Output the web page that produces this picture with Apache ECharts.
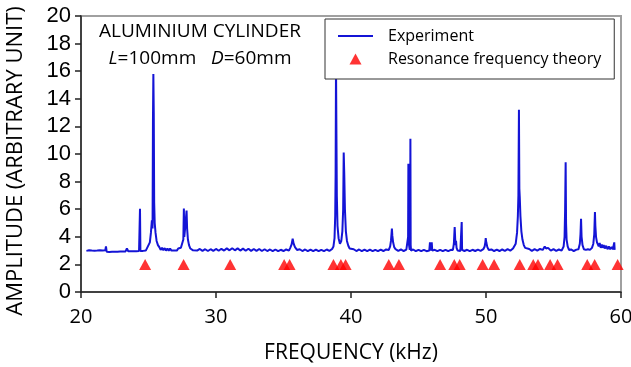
<!DOCTYPE html>
<html>
<head>
<meta charset="utf-8">
<script src="https://cdn.jsdelivr.net/npm/echarts@6/dist/echarts.min.js"></script>
<style>
html,body{margin:0;padding:0;background:#fff;}
#chart{width:631px;height:367px;}
</style>
</head>
<body>
<div id="chart"></div>
<script>
// ---- data ----
var xTicks = [20, 30, 40, 50, 60];
var yTicks = [0, 2, 4, 6, 8, 10, 12, 14, 16, 18, 20];

// Experiment spectrum: [frequency kHz, amplitude]
var experiment = [
[20.4,2.98],[20.5,2.9],[20.6,3.02],[20.7,2.88],[20.8,3.0],[20.9,2.87],[21.0,2.99],[21.1,2.88],[21.2,3.0],[21.3,2.9],
[21.4,3.02],[21.5,2.89],[21.6,3.01],[21.7,2.9],[21.8,3.03],[21.85,3.3],[21.9,2.92],[22.0,3.02],[22.1,2.9],[22.2,3.04],
[22.3,2.91],[22.4,3.03],[22.5,2.92],[22.6,3.05],[22.7,2.92],[22.8,3.04],[22.9,2.93],[23.0,3.05],[23.1,2.93],[23.2,3.06],
[23.3,2.94],[23.4,3.15],[23.5,2.95],[23.6,3.07],[23.7,2.95],[23.8,3.08],[23.9,2.96],[24.0,3.1],[24.1,2.96],[24.2,3.08],
[24.3,2.97],[24.37,6.04],[24.4,2.98],[24.5,3.1],[24.6,2.98],[24.7,3.12],[24.8,3.0],[24.9,3.2],[25.0,3.1],[25.1,3.6],
[25.18,4.3],[25.25,5.2],[25.3,4.6],[25.33,12.4],[25.36,15.8],[25.39,13.0],[25.42,6.5],[25.46,5.0],[25.52,4.3],[25.6,3.7],
[25.7,3.4],[25.8,3.25],[25.9,3.05],[26.0,3.2],[26.1,3.02],[26.2,3.18],[26.3,3.0],[26.4,3.15],[26.5,3.0],[26.6,3.15],
[26.7,3.0],[26.8,3.14],[26.9,3.0],[27.0,3.14],[27.1,3.0],[27.2,3.15],[27.3,3.02],[27.4,3.2],[27.5,3.3],[27.58,3.8],
[27.62,6.05],[27.65,4.0],[27.7,4.5],[27.76,5.2],[27.82,5.9],[27.86,4.6],[27.92,3.8],[28.0,3.4],[28.1,3.15],[28.2,3.25],
[28.3,3.02],[28.4,3.15],[28.6,3.0],[28.8,3.12],[29.0,2.98],[29.2,3.1],[29.4,2.97],[29.6,3.1],[29.8,2.98],[30.0,3.12],
[30.2,2.99],[30.4,3.13],[30.6,3.0],[30.8,3.16],[31.0,3.02],[31.2,3.17],[31.4,3.02],[31.6,3.16],[31.8,3.0],[32.0,3.14],
[32.2,2.99],[32.4,3.13],[32.6,2.98],[32.8,3.12],[33.0,2.98],[33.2,3.12],[33.4,2.97],[33.6,3.1],[33.8,2.97],[34.0,3.08],
[34.2,2.96],[34.4,3.08],[34.6,2.96],[34.8,3.06],[35.0,2.97],[35.2,3.08],[35.4,3.0],[35.5,3.2],[35.6,3.45],[35.68,3.87],
[35.75,3.5],[35.85,3.25],[36.0,3.05],[36.2,3.1],[36.4,2.97],[36.6,3.08],[36.8,2.96],[37.0,3.07],[37.2,2.96],[37.4,3.07],
[37.6,2.96],[37.8,3.06],[38.0,2.96],[38.2,3.08],[38.4,2.98],[38.6,3.12],[38.7,3.3],[38.78,3.9],[38.83,5.5],[38.86,8.5],
[38.89,16.5],[38.92,11.5],[38.95,7.0],[39.0,4.8],[39.08,3.9],[39.18,3.5],[39.28,3.7],[39.36,4.4],[39.42,6.0],[39.46,10.1],
[39.5,8.6],[39.55,6.0],[39.62,4.4],[39.7,3.7],[39.8,3.35],[39.9,3.15],[40.0,3.05],[40.2,3.1],[40.4,2.97],[40.6,3.08],
[40.8,2.96],[41.0,3.07],[41.2,2.96],[41.4,3.07],[41.6,2.96],[41.8,3.06],[42.0,2.96],[42.2,3.07],[42.4,2.97],[42.6,3.08],
[42.8,3.05],[42.9,3.3],[42.96,3.7],[43.0,4.2],[43.03,4.6],[43.06,4.1],[43.12,3.6],[43.2,3.25],[43.3,3.1],[43.5,2.98],
[43.7,3.08],[43.9,2.97],[44.1,3.07],[44.2,3.0],[44.23,4.0],[44.25,9.3],[44.27,5.8],[44.3,3.4],[44.35,3.05],[44.38,3.5],
[44.4,11.1],[44.42,3.4],[44.45,3.0],[44.6,3.08],[44.8,2.96],[45.0,3.06],[45.2,2.96],[45.4,3.06],[45.6,2.96],[45.8,3.0],
[45.85,3.6],[45.9,3.0],[45.98,3.6],[46.02,3.0],[46.2,3.06],[46.4,2.96],[46.6,3.06],[46.8,2.96],[47.0,3.06],[47.2,2.96],
[47.4,3.06],[47.55,3.05],[47.62,3.5],[47.68,4.7],[47.72,3.8],[47.76,3.4],[47.78,3.7],[47.82,3.2],[47.9,3.0],[48.0,3.06],
[48.1,2.97],[48.17,3.1],[48.2,5.07],[48.23,3.05],[48.4,2.97],[48.6,3.06],[48.8,2.96],[49.0,3.06],[49.2,2.97],[49.4,3.07],
[49.6,2.98],[49.8,3.1],[49.9,3.3],[49.95,3.6],[49.98,3.9],[50.02,3.6],[50.1,3.25],[50.2,3.05],[50.4,3.08],[50.6,2.97],
[50.8,3.07],[51.0,2.97],[51.2,3.08],[51.4,2.98],[51.6,3.1],[51.8,3.0],[52.0,3.15],[52.1,3.2],[52.2,3.5],[52.3,4.3],
[52.36,5.5],[52.4,7.0],[52.44,13.2],[52.47,7.5],[52.5,6.9],[52.55,5.5],[52.62,4.4],[52.7,3.8],[52.8,3.4],[52.9,3.2],
[53.0,3.08],[53.2,3.12],[53.4,2.98],[53.6,3.1],[53.8,3.0],[54.0,3.12],[54.2,3.05],[54.35,3.3],[54.45,3.15],[54.6,3.2],
[54.8,3.0],[55.0,3.1],[55.2,2.98],[55.4,3.08],[55.6,3.0],[55.75,3.3],[55.82,4.0],[55.86,5.9],[55.9,9.4],[55.93,5.0],
[55.97,3.8],[56.05,3.3],[56.15,3.05],[56.3,3.08],[56.5,2.97],[56.7,3.07],[56.85,3.1],[56.95,3.5],[57.0,4.2],[57.04,5.3],
[57.08,4.0],[57.15,3.4],[57.25,3.1],[57.4,3.05],[57.55,3.1],[57.7,3.05],[57.85,3.2],[57.95,3.5],[58.02,4.2],[58.07,5.8],
[58.1,4.8],[58.15,4.0],[58.22,3.6],[58.3,3.5],[58.35,3.3],[58.42,3.55],[58.5,3.2],[58.58,3.45],[58.65,3.2],[58.72,3.4],
[58.8,3.15],[58.9,3.35],[59.0,3.1],[59.1,3.3],[59.2,3.1],[59.3,3.25],[59.4,3.1],[59.45,3.2],[59.5,3.6],[59.53,3.05]
];

// Resonance frequency theory (kHz), drawn at amplitude level 2
var theoryFreq = [24.75, 27.6, 31.05, 35.05, 35.45, 38.7, 39.25, 39.6, 42.8, 43.55, 46.6, 47.65, 48.05,
                  49.75, 50.6, 52.5, 53.5, 53.85, 54.75, 55.3, 57.5, 58.05, 59.75];
var theoryLevel = [2, 2, 2, 2, 2, 2, 2, 2, 2, 2, 2, 2, 2, 2, 2, 2, 2, 2, 2, 2, 2, 2, 2];

var titleLine1 = 'ALUMINIUM CYLINDER';
var xName = 'FREQUENCY (kHz)';
var yName = 'AMPLITUDE (ARBITRARY UNIT)';

// ---- chart ----
var chart = echarts.init(document.getElementById('chart'), null, {renderer: 'canvas'});
var theoryData = theoryFreq.map(function (f, i) { return [f, theoryLevel[i]]; });

// legend icons (box 35x16 kept by degenerate corner points)
var lineIcon = 'path://M0,0L0,0M35,16L35,16M0,7L35,7L35,9L0,9Z';
var triIcon = 'path://M0,0L0,0M35,16L35,16M11.5,13.5L17.5,2.5L23.5,13.5Z';

chart.setOption({
  animation: false,
  backgroundColor: '#ffffff',
  grid: {
    left: 81, right: 10, top: 16, bottom: 75,
    containLabel: false, outerBoundsMode: 'none',
    show: true, borderColor: '#a0a0a0', borderWidth: 2, backgroundColor: 'transparent'
  },
  graphic: [
    {type: 'text', x: 200, y: 32, z: 10,
     style: {text: titleLine1, align: 'center', verticalAlign: 'middle',
             font: "19px 'Open Sans', sans-serif", fill: '#000'}},
    {type: 'text', x: 200, y: 59, z: 10,
     style: {text: '{i|L}{n|=100mm   }{i|D}{n|=60mm}', align: 'center', verticalAlign: 'middle',
             rich: {
               n: {fontSize: 19, fontFamily: 'Open Sans', fill: '#000', color: '#000'},
               i: {fontSize: 19, fontFamily: 'Open Sans', fontStyle: 'italic', fill: '#000', color: '#000'}
             }}}
  ],
  legend: {
    left: 325, top: 19, orient: 'vertical',
    backgroundColor: '#ffffff', borderColor: '#333333', borderWidth: 1, borderRadius: 0,
    padding: [9, 13, 12, 13],
    itemWidth: 35, itemHeight: 16, itemGap: 7,
    textStyle: {fontSize: 16, fontFamily: 'Open Sans', color: '#000', padding: [0, 0, 0, 10]},
    data: [
      {name: 'Experiment', icon: lineIcon, itemStyle: {color: '#1414d6'}},
      {name: 'Resonance frequency theory', icon: triIcon, itemStyle: {color: '#ff0000'}}
    ],
    z: 10
  },
  xAxis: {
    type: 'value', min: xTicks[0], max: xTicks[xTicks.length - 1], interval: 10,
    name: xName, nameLocation: 'middle', nameGap: 51,
    nameTextStyle: {fontSize: 21, fontFamily: 'Open Sans', color: '#000'},
    axisLine: {show: true, onZero: false, lineStyle: {color: '#222', width: 1.5}},
    axisTick: {show: true, inside: false, length: 6, lineStyle: {color: '#222', width: 1.5}},
    axisLabel: {fontSize: 20, fontFamily: 'Open Sans', color: '#000', margin: 15},
    splitLine: {show: false}
  },
  yAxis: {
    type: 'value', min: yTicks[0], max: yTicks[yTicks.length - 1], interval: 2,
    name: yName, nameLocation: 'middle', nameGap: 54, nameRotate: 90,
    nameTextStyle: {fontSize: 22, fontFamily: 'Open Sans', color: '#000', padding: [0, 14, 0, 0]},
    axisLine: {show: true, onZero: false, lineStyle: {color: '#222', width: 1.5}},
    axisTick: {show: true, inside: false, length: 6, lineStyle: {color: '#222', width: 1.5}},
    axisLabel: {fontSize: 22, fontFamily: 'Liberation Sans', color: '#000', margin: 10},
    splitLine: {show: false}
  },
  series: [
    {
      name: 'Experiment', type: 'line', data: experiment,
      showSymbol: false, symbol: 'none', z: 2,
      lineStyle: {color: '#1414d6', width: 2},
      itemStyle: {color: '#1414d6'}
    },
    {
      name: 'Resonance frequency theory', type: 'scatter', data: theoryData,
      symbol: 'triangle', symbolSize: [12, 11], z: 3,
      itemStyle: {color: '#ff0000'}
    }
  ]
});
</script>
</body>
</html>
